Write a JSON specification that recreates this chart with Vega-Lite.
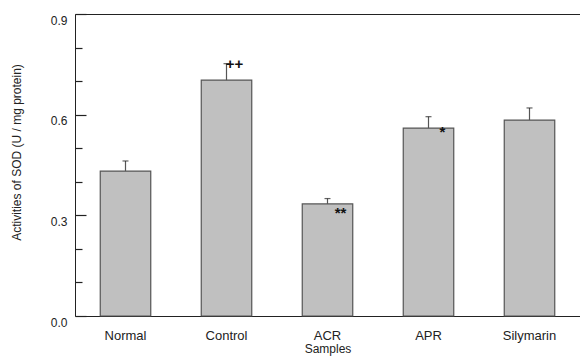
{
  "$schema": "https://vega.github.io/schema/vega-lite/v6.json",
  "width": 505,
  "height": 302,
  "autosize": {"type": "none"},
  "padding": {"left": 75, "top": 14, "right": 0, "bottom": 40},
  "config": {
    "view": {"stroke": "#222", "strokeWidth": 1},
    "font": "Liberation Sans",
    "axis": {"labelFont": "Liberation Sans", "titleFont": "Liberation Sans", "labelColor": "#222", "titleColor": "#222", "grid": false, "domain": false, "labelOverlap": false, "labelFlush": false}
  },
  "data": {"values": [
    {"sample": "Normal", "value": 0.432, "upper": 0.462, "sig": ""},
    {"sample": "Control", "value": 0.703, "upper": 0.752, "sig": "++"},
    {"sample": "ACR", "value": 0.334, "upper": 0.35, "sig": "**"},
    {"sample": "APR", "value": 0.56, "upper": 0.594, "sig": "*"},
    {"sample": "Silymarin", "value": 0.584, "upper": 0.62, "sig": ""}
  ]},
  "encoding": {
    "x": {"field": "sample", "type": "nominal", "sort": null,
      "scale": {"paddingInner": 0.5, "paddingOuter": 0.25},
      "axis": {"title": "Samples", "labelAngle": 0, "ticks": false, "labelFontSize": 13, "labelPadding": 13, "titleFontSize": 12, "titleFontWeight": "normal", "titlePadding": 1}}
  },
  "layer": [
    {
      "mark": {"type": "bar", "fill": "#c0c0c0", "stroke": "#555", "strokeWidth": 1.2},
      "encoding": {
        "y": {"field": "value", "type": "quantitative",
          "scale": {"domain": [0, 0.9], "nice": false, "zero": true},
          "axis": {"title": "Activities of SOD (U / mg protein)",
            "values": [0, 0.1, 0.2, 0.3, 0.4, 0.5, 0.6, 0.7, 0.8, 0.9],
            "tickCount": 30,
            "labelExpr": "round(datum.value*10) % 3 === 0 ? format(datum.value, '.1f') : ''",
            "labelOverlap": false,
            "labelOffset": 6,
            "ticks": true,
            "tickSize": {"condition": {"test": "round(datum.value*10) % 3 === 0", "value": -11}, "value": -7},
            "tickColor": "#222", "tickWidth": 1.2,
            "labelFontSize": 12, "labelPadding": 19,
            "titleFontSize": 12, "titleFontWeight": "normal",
            "titleX": -59, "titleY": 138, "titleBaseline": "middle", "titleAnchor": "middle"}}
      }
    },
    {
      "mark": {"type": "rule", "color": "#555", "strokeWidth": 1.2},
      "encoding": {
        "y": {"field": "value", "type": "quantitative"},
        "y2": {"field": "upper"}
      }
    },
    {
      "mark": {"type": "tick", "color": "#222", "size": 6, "thickness": 1.2, "orient": "horizontal"},
      "encoding": {
        "y": {"field": "upper", "type": "quantitative"}
      }
    },
    {
      "transform": [{"filter": "datum.sample === 'Control'"}],
      "mark": {"type": "text", "fontSize": 15, "fontWeight": "bold", "dx": 8, "dy": 0, "color": "#111"},
      "encoding": {"y": {"field": "upper", "type": "quantitative"}, "text": {"field": "sig"}}
    },
    {
      "transform": [{"filter": "datum.sample === 'ACR'"}],
      "mark": {"type": "text", "fontSize": 15, "fontWeight": "bold", "dx": 13, "dy": 9, "color": "#111"},
      "encoding": {"y": {"field": "value", "type": "quantitative"}, "text": {"field": "sig"}}
    },
    {
      "transform": [{"filter": "datum.sample === 'APR'"}],
      "mark": {"type": "text", "fontSize": 15, "fontWeight": "bold", "dx": 14, "dy": 4, "color": "#111"},
      "encoding": {"y": {"field": "value", "type": "quantitative"}, "text": {"field": "sig"}}
    }
  ]
}
